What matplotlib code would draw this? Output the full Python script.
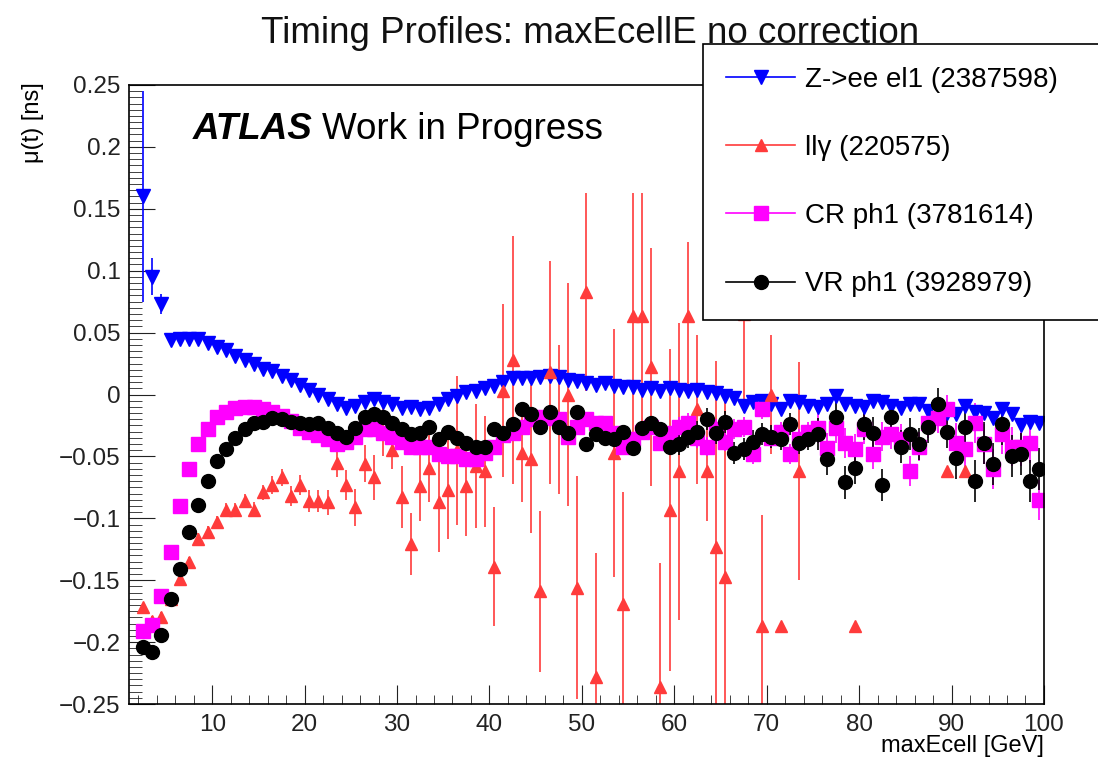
import numpy as np
import matplotlib
matplotlib.use("Agg")
import matplotlib.pyplot as plt
from matplotlib.ticker import MultipleLocator
from matplotlib.lines import Line2D

plt.rcParams['font.family'] = ['Liberation Sans', 'DejaVu Sans']

# bin centres of the 1 GeV profile bins
bins = np.arange(2.5, 100, 1.0)

# Z->ee el1
zee = [0.160, 0.095, 0.073, 0.044, 0.045, 0.045, 0.045, 0.042, 0.038, 0.036,
       0.031, 0.028, 0.025, 0.021, 0.019, 0.015, 0.012, 0.008, 0.004, 0.000,
       -0.004, -0.008, -0.011, -0.009, -0.006, -0.004, -0.006, -0.008, -0.011, -0.010,
       -0.012, -0.011, -0.008, -0.004, -0.001, 0.002, 0.003, 0.005, 0.007, 0.010,
       0.013, 0.013, 0.013, 0.014, 0.015, 0.014, 0.012, 0.011, 0.009, 0.008,
       0.009, 0.007, 0.006, 0.006, 0.004, 0.005, 0.003, 0.005, 0.004, 0.003,
       0.004, 0.002, 0.001, -0.001, -0.003, -0.009, -0.006, -0.005, -0.008, -0.012,
       -0.005, -0.006, -0.009, -0.010, -0.008, -0.001, -0.008, -0.009, -0.010, -0.005,
       -0.006, -0.009, -0.011, -0.008, -0.008, -0.013, -0.012, -0.015, -0.016, -0.009,
       -0.014, -0.015, -0.019, -0.012, -0.016, -0.025, -0.022, -0.023]
zee_err = [0.085, 0.015, 0.008] + [0.002] * 37 + [0.003] * 30 + [0.004] * 28

# ll gamma (sparse, only filled bins)
llg_x = [2.5, 3.5, 4.5, 5.5, 6.5, 7.5, 8.5, 9.5, 10.5, 11.5, 12.5, 13.5, 14.5, 15.5,
         16.5, 17.5, 18.5, 19.5, 20.5, 21.5, 22.5, 23.5, 24.5, 25.5, 26.5, 27.5, 28.5,
         29.5, 30.5, 31.5, 32.5, 33.5, 34.5, 35.5, 36.5, 37.5, 38.5, 39.5, 40.5, 41.5,
         42.5, 43.5, 44.5, 45.5, 46.5, 47.5, 48.5, 49.5, 50.5, 51.5, 53.5, 54.5, 55.5,
         56.5, 57.5, 58.5, 59.5, 60.5, 61.5, 62.5, 63.5, 64.5, 65.5, 67.5, 69.5, 70.5,
         71.5, 73.5, 79.5, 89.5, 91.5]
llg = [-0.172, -0.183, -0.180, -0.165, -0.149, -0.135, -0.117, -0.111, -0.103, -0.093,
       -0.093, -0.086, -0.093, -0.079, -0.073, -0.067, -0.082, -0.073, -0.086, -0.086,
       -0.087, -0.055, -0.073, -0.091, -0.056, -0.067, -0.030, -0.045, -0.083, -0.121,
       -0.074, -0.059, -0.087, -0.077, -0.045, -0.074, -0.058, -0.062, -0.139, 0.003,
       0.028, -0.047, -0.052, -0.159, 0.018, -0.020, 0.000, -0.156, 0.083, -0.228,
       -0.047, -0.169, 0.063, 0.063, 0.022, -0.236, -0.093, -0.062, 0.063, -0.012,
       -0.062, -0.123, -0.147, 0.065, -0.187, 0.000, -0.187, -0.062, -0.187, -0.062,
       -0.062]
llg_err = [0.004, 0.004, 0.004, 0.004, 0.004, 0.004, 0.005, 0.005, 0.005, 0.005,
           0.005, 0.006, 0.006, 0.006, 0.007, 0.007, 0.008, 0.008, 0.009, 0.009,
           0.010, 0.012, 0.012, 0.015, 0.015, 0.018, 0.020, 0.015, 0.025, 0.025,
           0.028, 0.028, 0.040, 0.040, 0.060, 0.040, 0.050, 0.045, 0.048, 0.070,
           0.100, 0.040, 0.060, 0.065, 0.090, 0.060, 0.090, 0.090, 0.080, 0.100,
           0.100, 0.090, 0.100, 0.100, 0.096, 0.100, 0.130, 0.120, 0.060, 0.060,
           0.040, 0.150, 0.150, 0.080, 0.090, 0.048, 0.0, 0.088, 0.0, 0.0,
           0.0]

# CR ph1
cr = [-0.191, -0.186, -0.163, -0.127, -0.090, -0.060, -0.040, -0.028, -0.018, -0.014,
      -0.011, -0.010, -0.010, -0.012, -0.014, -0.017, -0.021, -0.027, -0.030, -0.033,
      -0.036, -0.040, -0.038, -0.034, -0.028, -0.028, -0.031, -0.034, -0.038, -0.042,
      -0.042, -0.042, -0.048, -0.050, -0.050, -0.052, -0.052, -0.047, -0.042, -0.033,
      -0.031, -0.026, -0.020, -0.018, -0.019, -0.020, -0.034, -0.026, -0.020, -0.023,
      -0.023, -0.031, -0.042, -0.036, -0.030, -0.026, -0.039, -0.031, -0.026, -0.023,
      -0.035, -0.042, -0.028, -0.038, -0.028, -0.026, -0.048, -0.012, -0.035, -0.030,
      -0.048, -0.036, -0.030, -0.027, -0.043, -0.027, -0.039, -0.044, -0.028, -0.048,
      -0.034, -0.032, -0.036, -0.062, -0.042, -0.023, -0.019, -0.012, -0.039, -0.044,
      -0.023, -0.040, -0.060, -0.032, -0.042, -0.042, -0.039, -0.085]
cr_err = [0.002] * 38 + [0.004] * 20 + [0.008] * 15 + [0.012] * 15 + [0.016] * 10

# VR ph1
vr = [-0.204, -0.208, -0.194, -0.165, -0.141, -0.111, -0.089, -0.070, -0.054, -0.044,
      -0.035, -0.028, -0.023, -0.022, -0.019, -0.020, -0.022, -0.023, -0.024, -0.023,
      -0.027, -0.031, -0.034, -0.027, -0.018, -0.016, -0.018, -0.023, -0.028, -0.032,
      -0.031, -0.026, -0.036, -0.030, -0.035, -0.039, -0.042, -0.042, -0.028, -0.031,
      -0.024, -0.012, -0.016, -0.026, -0.014, -0.026, -0.031, -0.014, -0.040, -0.032,
      -0.035, -0.036, -0.030, -0.043, -0.027, -0.023, -0.028, -0.042, -0.040, -0.034,
      -0.030, -0.020, -0.031, -0.022, -0.047, -0.044, -0.038, -0.032, -0.034, -0.036,
      -0.024, -0.039, -0.036, -0.032, -0.052, -0.018, -0.071, -0.059, -0.024, -0.031,
      -0.073, -0.018, -0.042, -0.032, -0.040, -0.026, -0.008, -0.030, -0.051, -0.026,
      -0.070, -0.039, -0.056, -0.024, -0.050, -0.048, -0.070, -0.060]
vr_err = [0.002] * 38 + [0.005] * 20 + [0.009] * 15 + [0.013] * 15 + [0.017] * 10

labels = ['Z->ee el1 (2387598)', 'll\u03b3 (220575)', 'CR ph1 (3781614)', 'VR ph1 (3928979)']
red = '#ff3b3b'

fig = plt.figure(figsize=(10.98, 7.58), dpi=100)
ax = fig.add_axes([0.1175, 0.0712, 0.8333, 0.8167])

ax.errorbar(bins, zee, yerr=zee_err, fmt='v', color='#0000ff', ms=10, elinewidth=1.2, capsize=0)
ax.errorbar(llg_x, llg, yerr=llg_err, fmt='^', color=red, ms=8, elinewidth=1.2, capsize=0)
ax.errorbar(bins, cr, yerr=cr_err, fmt='s', color='#ff00ff', ms=9.5, elinewidth=1.2, capsize=0)
ax.errorbar(bins, vr, yerr=vr_err, fmt='o', color='black', ms=10, elinewidth=1.2, capsize=0)

ax.set_xlim(1, 100)
ax.set_ylim(-0.25, 0.25)
ax.xaxis.set_minor_locator(MultipleLocator(2))
ax.yaxis.set_minor_locator(MultipleLocator(0.005))
ax.set_xticks([10, 20, 30, 40, 50, 60, 70, 80, 90, 100])
ax.set_yticks([-0.25, -0.2, -0.15, -0.1, -0.05, 0, 0.05, 0.1, 0.15, 0.2, 0.25])
ax.set_yticklabels(['\u22120.25', '\u22120.2', '\u22120.15', '\u22120.1', '\u22120.05', '0',
                    '0.05', '0.1', '0.15', '0.2', '0.25'])
ax.tick_params(axis='both', which='both', direction='in', top=False, right=False,
               labelsize=17.5, colors='#222222')
ax.tick_params(axis='y', which='major', length=19, pad=6)
ax.tick_params(axis='y', which='minor', length=9.5)
ax.tick_params(axis='x', which='major', length=14, pad=7)
ax.tick_params(axis='x', which='minor', length=6.5)
for s in ax.spines.values():
    s.set_linewidth(1.2)

fig.text(0.537, 0.956, 'Timing Profiles: maxEcellE no correction', ha='center', va='center',
         fontsize=26.5, color='#111111')
fig.text(0.03, 0.892, '\u03bc(t) [ns]', rotation=90, ha='center', va='top', fontsize=17)
fig.text(0.951, 0.016, 'maxEcell [GeV]', ha='right', va='center', fontsize=17)
fig.text(0.176, 0.829, 'ATLAS', fontsize=26.5, fontweight='bold', style='italic', va='center')
fig.text(0.2935, 0.829, 'Work in Progress', fontsize=26.5, va='center')

handles = [
    Line2D([], [], color='#0000ff', marker='v', ms=10, lw=1.2),
    Line2D([], [], color=red, marker='^', ms=8, lw=1.2),
    Line2D([], [], color='#ff00ff', marker='s', ms=9.5, lw=1.2),
    Line2D([], [], color='black', marker='o', ms=10, lw=1.2),
]
leg = fig.legend(handles, labels, loc='upper left',
                 bbox_to_anchor=(0.6403, 0.583, 0.4, 0.359), mode='expand',
                 borderaxespad=0, borderpad=0.82, labelspacing=1.52,
                 handlelength=2.5, handletextpad=0.35, fontsize=20,
                 fancybox=False, frameon=True)
leg.get_frame().set_edgecolor('black')
leg.get_frame().set_linewidth(1.2)
leg.get_frame().set_alpha(1)

fig.savefig('out.png', dpi=100)
